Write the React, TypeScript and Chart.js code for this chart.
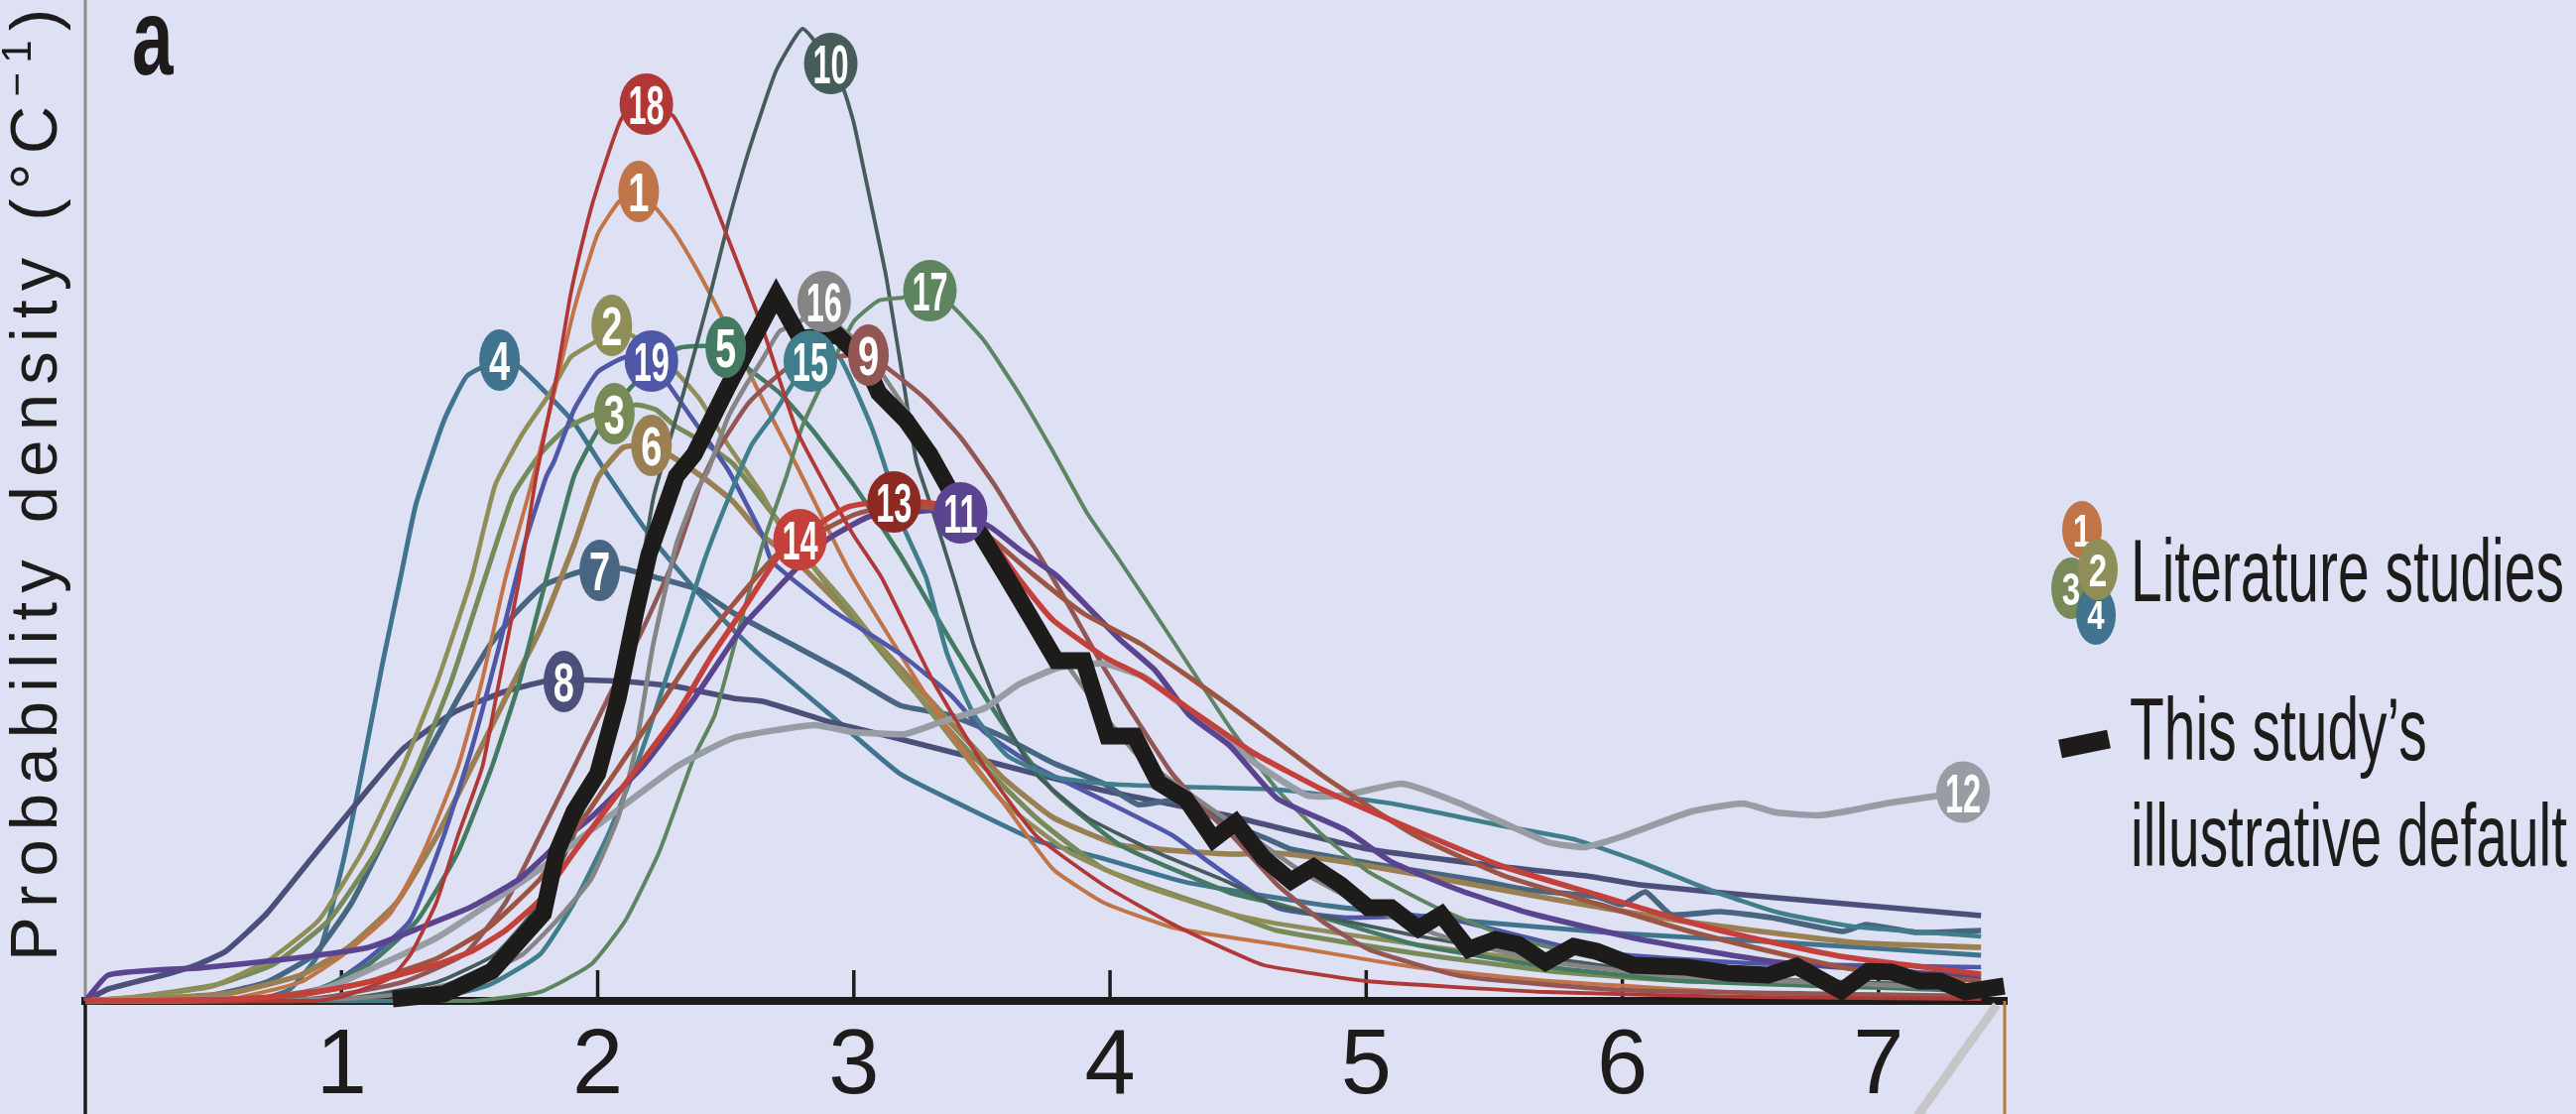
import React, { useEffect, useRef } from 'react';
import { Chart, registerables } from 'chart.js';
Chart.register(...registerables);

// ---------- data ----------
const X_TICKS = [1, 2, 3, 4, 5, 6, 7];
const X_MIN = 0;
const X_MAX = 7.5;
const Y_MAX = 1.009;

const S1 = [[0,0],[0.3,0],[0.57,0.002],[0.84,0.019],[1.01,0.047],[1.19,0.088],[1.32,0.15],[1.455,0.236],[1.548,0.322],[1.64,0.426],[1.75,0.529],[1.83,0.613],[1.91,0.699],[2.0,0.773],[2.084,0.806],[2.16,0.816],[2.228,0.799],[2.30,0.775],[2.388,0.737],[2.48,0.692],[2.644,0.606],[2.776,0.54],[2.977,0.436],[3.18,0.35],[3.376,0.271],[3.577,0.202],[3.777,0.133],[3.976,0.099],[4.243,0.074],[4.47,0.064],[4.65,0.057],[5.19,0.034],[5.72,0.02],[6.5,0.008],[7.4,0.004]];
const S2 = [[0,0],[0.2,0.004],[0.44,0.012],[0.51,0.016],[0.71,0.04],[0.91,0.081],[1.08,0.15],[1.24,0.236],[1.374,0.322],[1.508,0.426],[1.60,0.52],[1.707,0.572],[1.815,0.613],[1.895,0.649],[1.994,0.665],[2.055,0.681],[2.2,0.66],[2.307,0.634],[2.40,0.606],[2.51,0.56],[2.644,0.51],[2.72,0.475],[2.977,0.398],[3.31,0.288],[3.577,0.202],[3.84,0.15],[4.11,0.118],[4.467,0.088],[4.65,0.078],[5.19,0.057],[5.72,0.039],[6.25,0.025],[6.9,0.016],[7.4,0.012]];
const S3 = [[0,0],[0.2,0.004],[0.507,0.016],[0.735,0.037],[0.95,0.081],[1.134,0.15],[1.295,0.236],[1.428,0.322],[1.56,0.426],[1.67,0.51],[1.775,0.551],[1.88,0.578],[1.988,0.591],[2.065,0.592],[2.15,0.601],[2.228,0.596],[2.30,0.58],[2.40,0.565],[2.53,0.541],[2.91,0.415],[3.18,0.329],[3.44,0.254],[3.71,0.185],[3.976,0.133],[4.468,0.088],[4.65,0.071],[5.19,0.048],[5.72,0.03],[6.25,0.02],[7.4,0.014]];
const S4 = [[0,0],[0.5,0],[0.7,0.003],[0.8,0.012],[0.91,0.047],[1.0,0.133],[1.07,0.219],[1.16,0.34],[1.23,0.426],[1.29,0.50],[1.40,0.585],[1.49,0.63],[1.617,0.646],[1.695,0.639],[1.81,0.61],[1.91,0.582],[2.04,0.53],[2.21,0.467],[2.38,0.415],[2.53,0.374],[2.64,0.347],[2.91,0.288],[3.18,0.229],[3.44,0.195],[3.71,0.162],[3.98,0.143],[4.29,0.12],[4.85,0.096],[5.42,0.08],[5.99,0.068],[6.56,0.06],[7.4,0.046]];
const S5 = [[0,0],[0.6,0],[0.908,0.012],[1.107,0.037],[1.295,0.081],[1.455,0.15],[1.587,0.236],[1.695,0.322],[1.80,0.426],[1.908,0.529],[2.0,0.575],[2.135,0.62],[2.315,0.658],[2.50,0.659],[2.59,0.637],[2.71,0.613],[2.84,0.575],[3.0,0.52],[3.18,0.45],[3.376,0.364],[3.577,0.281],[3.777,0.212],[4.04,0.157],[4.468,0.109],[4.65,0.098],[5.19,0.057],[5.72,0.034],[6.25,0.02],[7.4,0.01]];
const S6 = [[0,0],[0.3,0.003],[0.57,0.008],[0.84,0.026],[1.028,0.054],[1.215,0.099],[1.374,0.167],[1.508,0.236],[1.64,0.305],[1.775,0.374],[1.908,0.46],[2.0,0.527],[2.10,0.558],[2.21,0.56],[2.295,0.548],[2.415,0.527],[2.53,0.503],[2.644,0.469],[2.776,0.443],[2.977,0.391],[3.18,0.336],[3.376,0.281],[3.577,0.226],[3.777,0.185],[4.04,0.157],[4.468,0.148],[4.653,0.149],[4.92,0.14],[5.19,0.128],[5.72,0.103],[6.25,0.08],[6.9,0.059],[7.4,0.054]];
const S7 = [[0,0],[0.3,0.002],[0.5,0.006],[0.708,0.019],[0.895,0.047],[1.04,0.099],[1.175,0.167],[1.31,0.236],[1.455,0.305],[1.575,0.357],[1.68,0.391],[1.79,0.419],[1.935,0.433],[2.008,0.434],[2.094,0.436],[2.24,0.426],[2.388,0.415],[2.53,0.391],[2.776,0.357],[2.977,0.329],[3.18,0.298],[3.376,0.288],[3.577,0.267],[3.777,0.24],[3.976,0.219],[4.11,0.198],[4.243,0.202],[4.377,0.188],[4.617,0.163],[4.706,0.153],[5.1,0.135],[5.45,0.121],[5.63,0.112],[5.9,0.105],[6.0,0.097],[6.09,0.11],[6.19,0.087],[6.38,0.09],[6.58,0.084],[6.86,0.07],[6.95,0.077],[7.15,0.069],[7.4,0.071]];
const S8 = [[0,0],[0.09,0.012],[0.333,0.028],[0.441,0.037],[0.548,0.05],[0.708,0.088],[0.881,0.143],[1.055,0.198],[1.24,0.254],[1.44,0.291],[1.64,0.312],[1.79,0.322],[1.868,0.324],[2.108,0.322],[2.307,0.317],[2.53,0.305],[2.644,0.302],[2.91,0.281],[3.18,0.264],[3.44,0.247],[3.71,0.229],[3.976,0.212],[4.243,0.198],[4.475,0.186],[5.01,0.153],[5.54,0.135],[5.86,0.126],[6.07,0.117],[6.6,0.104],[7.4,0.086]];
const S9 = [[0,0],[0.8,0],[0.97,0.005],[1.24,0.019],[1.48,0.047],[1.64,0.099],[1.775,0.167],[1.908,0.236],[2.04,0.305],[2.175,0.374],[2.307,0.45],[2.40,0.52],[2.457,0.551],[2.59,0.603],[2.737,0.637],[2.95,0.65],[3.057,0.651],[3.136,0.637],[3.283,0.606],[3.417,0.568],[3.55,0.52],[3.657,0.475],[3.71,0.455],[3.84,0.398],[3.976,0.336],[4.11,0.281],[4.243,0.229],[4.377,0.191],[4.475,0.167],[4.653,0.117],[4.83,0.08],[5.01,0.052],[5.37,0.025],[6.0,0.011],[7.4,0.005]];
const S10 = [[0,0],[0.9,0],[1.1,0.005],[1.374,0.019],[1.60,0.047],[1.775,0.099],[1.908,0.167],[2.015,0.254],[2.108,0.357],[2.175,0.443],[2.22,0.51],[2.335,0.613],[2.443,0.716],[2.51,0.785],[2.59,0.857],[2.697,0.938],[2.80,0.98],[2.91,0.945],[2.964,0.916],[3.0,0.885],[3.043,0.833],[3.124,0.733],[3.19,0.63],[3.244,0.544],[3.30,0.50],[3.39,0.426],[3.47,0.357],[3.577,0.288],[3.71,0.229],[3.91,0.185],[4.18,0.15],[4.468,0.119],[4.65,0.096],[5.19,0.066],[5.72,0.043],[6.25,0.025],[7.4,0.015]];
const S11 = [[0,0],[0.089,0.026],[0.333,0.032],[0.441,0.033],[0.815,0.043],[1.107,0.054],[1.31,0.074],[1.508,0.095],[1.695,0.123],[1.84,0.157],[1.975,0.185],[2.175,0.236],[2.377,0.305],[2.53,0.364],[2.577,0.381],[2.776,0.436],[2.896,0.465],[3.057,0.488],[3.2,0.492],[3.323,0.495],[3.417,0.492],[3.537,0.477],[3.657,0.453],[3.79,0.429],[3.91,0.398],[4.04,0.364],[4.177,0.333],[4.31,0.288],[4.468,0.257],[4.653,0.204],[4.92,0.172],[5.1,0.14],[5.36,0.112],[5.63,0.089],[6.07,0.062],[6.61,0.039],[7.4,0.024]];
const S12 = [[0,0],[0.7,0.002],[0.84,0.006],[0.975,0.016],[1.374,0.064],[1.775,0.133],[2.04,0.185],[2.307,0.236],[2.53,0.265],[2.844,0.278],[3.0,0.271],[3.2,0.269],[3.337,0.281],[3.51,0.295],[3.643,0.319],[3.80,0.336],[3.976,0.34],[4.137,0.326],[4.34,0.286],[4.57,0.239],[4.77,0.207],[4.91,0.207],[5.14,0.219],[5.366,0.199],[5.71,0.16],[5.85,0.155],[5.99,0.165],[6.27,0.191],[6.47,0.199],[6.6,0.19],[6.76,0.187],[6.85,0.19],[7.05,0.2],[7.33,0.2105]];
const S13 = [[0,0],[0.6,0.002],[0.84,0.006],[1.1,0.019],[1.374,0.043],[1.575,0.074],[1.775,0.123],[1.975,0.195],[2.175,0.271],[2.377,0.35],[2.53,0.40],[2.70,0.45],[2.884,0.475],[3.0,0.49],[3.157,0.50],[3.30,0.497],[3.42,0.488],[3.52,0.47],[3.70,0.43],[3.90,0.39],[4.12,0.36],[4.475,0.296],[4.83,0.227],[5.19,0.167],[5.54,0.126],[5.9,0.098],[6.25,0.071],[6.61,0.048],[6.9,0.032],[7.4,0.02]];
const S14 = [[0,0],[0.5,0.001],[0.72,0.004],[0.97,0.012],[1.175,0.023],[1.374,0.037],[1.508,0.05],[1.64,0.071],[1.775,0.102],[1.908,0.15],[2.108,0.219],[2.307,0.288],[2.443,0.347],[2.577,0.398],[2.71,0.45],[2.79,0.465],[2.884,0.484],[2.977,0.498],[3.157,0.505],[3.323,0.501],[3.42,0.495],[3.52,0.47],[3.643,0.426],[3.777,0.384],[3.976,0.347],[4.12,0.328],[4.3,0.296],[4.56,0.25],[4.83,0.213],[5.19,0.172],[5.54,0.135],[5.9,0.107],[6.25,0.08],[6.48,0.065],[6.85,0.045],[7.4,0.027]];
const S15 = [[0,0],[1.3,0],[1.575,0.016],[1.775,0.047],[1.908,0.099],[2.04,0.167],[2.175,0.254],[2.307,0.357],[2.415,0.443],[2.50,0.50],[2.60,0.56],[2.683,0.59],[2.764,0.623],[2.83,0.645],[2.937,0.651],[3.0,0.62],[3.07,0.578],[3.136,0.527],[3.19,0.48],[3.283,0.426],[3.364,0.35],[3.47,0.288],[3.60,0.247],[3.777,0.226],[3.976,0.219],[4.243,0.216],[4.653,0.213],[5.1,0.199],[5.54,0.176],[5.81,0.163],[6.07,0.14],[6.34,0.112],[6.61,0.089],[6.9,0.075],[7.4,0.065]];
const S16 = [[0,0],[1.0,0.002],[1.27,0.008],[1.508,0.023],[1.707,0.047],[1.84,0.081],[1.975,0.123],[2.08,0.185],[2.148,0.254],[2.215,0.357],[2.307,0.46],[2.388,0.515],[2.43,0.534],[2.51,0.589],[2.577,0.62],[2.644,0.647],[2.71,0.675],[2.79,0.685],[2.884,0.705],[2.95,0.678],[3.0,0.668],[3.097,0.637],[3.204,0.596],[3.31,0.554],[3.417,0.505],[3.51,0.469],[3.577,0.443],[3.71,0.384],[3.84,0.336],[3.976,0.288],[4.11,0.247],[4.31,0.209],[4.5,0.175],[4.75,0.13],[5.0,0.095],[5.3,0.065],[5.7,0.04],[6.2,0.025],[7.4,0.012]];
const S17 = [[0,0],[1.5,0],[1.775,0.009],[1.975,0.037],[2.108,0.081],[2.24,0.15],[2.375,0.245],[2.457,0.288],[2.55,0.374],[2.644,0.46],[2.737,0.529],[2.80,0.58],[2.91,0.64],[3.0,0.685],[3.097,0.706],[3.19,0.709],[3.297,0.716],[3.39,0.699],[3.51,0.665],[3.643,0.613],[3.777,0.554],[3.91,0.492],[4.04,0.443],[4.243,0.364],[4.475,0.273],[4.653,0.213],[4.83,0.167],[5.01,0.13],[5.275,0.094],[5.54,0.066],[5.9,0.043],[6.4,0.025],[7.4,0.012]];
const S18 = [[0,0],[0.9,0],[1.0,0.004],[1.19,0.023],[1.27,0.047],[1.37,0.099],[1.455,0.167],[1.55,0.236],[1.61,0.315],[1.695,0.426],[1.76,0.529],[1.84,0.63],[1.895,0.713],[1.96,0.785],[2.0,0.821],[2.094,0.89],[2.19,0.904],[2.295,0.892],[2.40,0.84],[2.51,0.768],[2.644,0.678],[2.777,0.575],[2.91,0.51],[3.0,0.469],[3.11,0.426],[3.31,0.322],[3.51,0.236],[3.71,0.167],[3.98,0.116],[4.24,0.078],[4.47,0.05],[4.60,0.036],[5.0,0.02],[5.7,0.009],[6.5,0.004],[7.4,0.002]];
const S19 = [[0,0],[0.6,0],[0.84,0.005],[0.975,0.019],[1.107,0.043],[1.268,0.081],[1.40,0.167],[1.508,0.254],[1.615,0.357],[1.72,0.465],[1.80,0.529],[1.83,0.544],[1.908,0.596],[2.0,0.634],[2.108,0.649],[2.21,0.645],[2.28,0.62],[2.375,0.585],[2.51,0.535],[2.644,0.469],[2.68,0.443],[2.91,0.395],[3.18,0.35],[3.376,0.309],[3.51,0.271],[3.71,0.236],[3.976,0.202],[4.243,0.167],[4.386,0.14],[4.653,0.094],[4.92,0.084],[5.28,0.085],[5.86,0.05],[6.5,0.038],[7.4,0.034]];

const DEFAULT_CURVE = [[1.2,0.002],[1.40,0.007],[1.587,0.03],[1.788,0.088],[1.84,0.15],[1.908,0.191],[2.0,0.229],[2.08,0.305],[2.148,0.391],[2.20,0.45],[2.307,0.529],[2.377,0.551],[2.51,0.62],[2.697,0.711],[2.79,0.668],[2.937,0.671],[3.043,0.644],[3.097,0.613],[3.204,0.585],[3.297,0.551],[3.364,0.52],[3.417,0.492],[3.497,0.47],[3.60,0.426],[3.71,0.378],[3.79,0.343],[3.897,0.343],[3.99,0.267],[4.096,0.267],[4.19,0.22],[4.297,0.203],[4.404,0.163],[4.49,0.18],[4.6,0.144],[4.706,0.121],[4.795,0.135],[4.901,0.117],[5.008,0.094],[5.097,0.094],[5.203,0.073],[5.293,0.087],[5.4,0.052],[5.505,0.062],[5.594,0.057],[5.70,0.039],[5.81,0.055],[5.9,0.05],[6.04,0.036],[6.25,0.034],[6.41,0.028],[6.57,0.026],[6.68,0.035],[6.855,0.01],[6.96,0.03],[7.05,0.029],[7.16,0.02],[7.24,0.02],[7.34,0.009],[7.49,0.015]];

const STUDY_IDS = ['1','2','3','4','5','6','7','8','9','10','11','12','13','14','15','16','17','18','19'];
const STUDY_CURVES = [S1,S2,S3,S4,S5,S6,S7,S8,S9,S10,S11,S12,S13,S14,S15,S16,S17,S18,S19];
const LABEL_X = [2.16,2.055,2.065,1.617,2.50,2.21,2.008,1.868,3.057,2.91,3.417,7.33,3.157,2.79,2.83,2.884,3.297,2.19,2.21];
const LABEL_Y = [0.816,0.681,0.592,0.646,0.659,0.560,0.434,0.322,0.651,0.945,0.492,0.2105,0.503,0.465,0.645,0.705,0.716,0.904,0.645];

const LEGEND_TEXT = ['Literature studies', 'This study\u2019s', 'illustrative default'];
const Y_TITLE = ['Probability density (\u00B0C', '\u22121', ')'];
const PANEL_LETTER = 'a';

// ---------- styles ----------
const BG = '#DDE1F3';
const LINE_COLORS = ['#C07447','#8F8D58','#778A58','#3F738E','#447A62','#9A7F52','#486581','#4B4F7A','#925655','#465C5A','#5A4490','#989CA4','#9E5443','#C4403A','#3F7E8A','#858585','#5E8560','#B23838','#4F58A8'];
const LABEL_COLORS = ['#C07447','#8F8D58','#778A58','#3F738E','#447A62','#9A7F52','#486581','#4B4F7A','#925655','#465C5A','#5A4490','#989CA4','#8C2A22','#C4403A','#3F7E8A','#858585','#5E8560','#B23838','#4F58A8'];
const LINE_WIDTHS = [4,4.6,5,4.8,4.6,5.6,5.6,5.6,4.6,3.8,5.6,6.5,5,5.6,4.6,4.6,4,3.8,4.6];
const DRAW_ORDER = [14,18,13,11,16,12,9,15,17,10,5,19,1,2,3,6,7,8,4];
const INK = '#1E1B1B';
const SANS = '"Liberation Sans", Arial, Helvetica, sans-serif';

function condensedText(ctx, text, x, y, font, sx, align) {
  ctx.save();
  ctx.font = font;
  ctx.translate(x, y);
  ctx.scale(sx, 1);
  ctx.textAlign = align || 'left';
  ctx.fillText(text, 0, 0);
  ctx.restore();
}

function ellipseLabel(ctx, cx, cy, rx, ry, fill, text, fontPx, sx) {
  ctx.save();
  ctx.fillStyle = fill;
  ctx.beginPath();
  ctx.ellipse(cx, cy, rx, ry, 0, 0, Math.PI * 2);
  ctx.fill();
  ctx.fillStyle = '#FFFFFF';
  ctx.textBaseline = 'alphabetic';
  condensedText(ctx, text, cx, cy + fontPx * 0.36, `bold ${fontPx}px ${SANS}`, sx, 'center');
  ctx.restore();
}

const decorPlugin = {
  id: 'decor',
  beforeDraw(chart) {
    const ctx = chart.ctx;
    ctx.save();
    ctx.fillStyle = BG;
    ctx.fillRect(0, 0, chart.width, chart.height);
    ctx.restore();
  },
  beforeDatasetsDraw(chart) {
    const ctx = chart.ctx;
    const { left, bottom, right } = chart.chartArea;
    const xs = chart.scales.x;
    ctx.save();
    ctx.lineCap = 'butt';
    ctx.strokeStyle = '#8E8E8E';
    ctx.lineWidth = 3;
    ctx.beginPath(); ctx.moveTo(left, 0); ctx.lineTo(left, bottom); ctx.stroke();
    ctx.strokeStyle = INK;
    ctx.lineWidth = 3.5;
    ctx.beginPath(); ctx.moveTo(left, bottom); ctx.lineTo(left, chart.height); ctx.stroke();
    ctx.lineWidth = 3.5;
    X_TICKS.forEach((v) => {
      const px = xs.getPixelForValue(v);
      ctx.beginPath(); ctx.moveTo(px, bottom); ctx.lineTo(px, bottom - 31); ctx.stroke();
    });
    ctx.strokeStyle = '#C6C6C8';
    ctx.lineWidth = 9;
    ctx.beginPath(); ctx.moveTo(right - 10, bottom + 4); ctx.lineTo(right - 90, chart.height + 2); ctx.stroke();
    ctx.strokeStyle = '#B77A36';
    ctx.lineWidth = 3;
    ctx.beginPath(); ctx.moveTo(right - 2, bottom); ctx.lineTo(right - 2, chart.height); ctx.stroke();
    ctx.restore();
  },
  afterDatasetsDraw(chart) {
    const ctx = chart.ctx;
    const xs = chart.scales.x;
    const ys = chart.scales.y;
    STUDY_IDS.forEach((id, i) => {
      const cx = xs.getPixelForValue(LABEL_X[i]);
      const cy = ys.getPixelForValue(LABEL_Y[i]);
      const two = id.length > 1;
      ellipseLabel(ctx, cx, cy, two ? 27 : 20.5, 31, LABEL_COLORS[i], id, 56, two ? 0.58 : 0.68);
    });
  },
  afterDraw(chart) {
    const ctx = chart.ctx;
    ctx.save();
    ctx.fillStyle = INK;
    const big = `67px ${SANS}`;
    const small = `42px ${SANS}`;
    ctx.letterSpacing = '0px';
    ctx.font = big;
    const w0 = ctx.measureText(Y_TITLE[0]).width;
    const w2 = ctx.measureText(Y_TITLE[2]).width;
    ctx.font = small;
    const w1 = ctx.measureText(Y_TITLE[1]).width;
    const nChars = Y_TITLE[0].length + Y_TITLE[1].length + Y_TITLE[2].length;
    const ls = (960 - w0 - w1 - w2) / (nChars - 1);
    ctx.save();
    ctx.translate(57, 969);
    ctx.rotate(-Math.PI / 2);
    ctx.textAlign = 'left';
    ctx.textBaseline = 'alphabetic';
    ctx.letterSpacing = `${ls}px`;
    ctx.font = big;
    ctx.fillText(Y_TITLE[0], 0, 0);
    let pos = w0 + Y_TITLE[0].length * ls;
    ctx.font = small;
    ctx.fillText(Y_TITLE[1], pos, -26);
    pos += w1 + Y_TITLE[1].length * ls;
    ctx.font = big;
    ctx.fillText(Y_TITLE[2], pos, 0);
    ctx.restore();
    ctx.letterSpacing = '0px';

    ctx.textBaseline = 'alphabetic';
    condensedText(ctx, PANEL_LETTER, 133, 75, `bold 110px ${SANS}`, 0.68, 'left');

    ellipseLabel(ctx, 2099, 534, 20, 29, LABEL_COLORS[0], STUDY_IDS[0], 46, 0.72);
    ellipseLabel(ctx, 2088, 593, 20, 31, LABEL_COLORS[2], STUDY_IDS[2], 46, 0.72);
    ellipseLabel(ctx, 2113, 620, 20, 30, LABEL_COLORS[3], STUDY_IDS[3], 40, 0.78);
    ellipseLabel(ctx, 2115, 574, 20, 31, LABEL_COLORS[1], STUDY_IDS[1], 46, 0.72);
    ctx.fillStyle = INK;
    condensedText(ctx, LEGEND_TEXT[0], 2148, 606, `89px ${SANS}`, 0.64, 'left');
    condensedText(ctx, LEGEND_TEXT[1], 2147, 766, `89px ${SANS}`, 0.64, 'left');
    condensedText(ctx, LEGEND_TEXT[2], 2148, 873, `89px ${SANS}`, 0.64, 'left');
    ctx.strokeStyle = INK;
    ctx.lineWidth = 19;
    ctx.lineCap = 'butt';
    ctx.beginPath(); ctx.moveTo(2077, 755); ctx.lineTo(2126, 745); ctx.stroke();
    ctx.restore();
  },
};

export default function App() {
  const ref = useRef(null);
  useEffect(() => {
    const canvas = ref.current;
    if (!canvas) return;
    canvas.width = 2597;
    canvas.height = 1123;
    const toPts = (arr) => arr.map(([x, y]) => ({ x, y }));
    const datasets = [
      {
        label: 'This study\u2019s illustrative default',
        data: toPts(DEFAULT_CURVE),
        borderColor: INK,
        borderWidth: 17,
        borderJoinStyle: 'miter',
        borderCapStyle: 'butt',
        tension: 0,
        pointRadius: 0,
        clip: false,
      },
      ...DRAW_ORDER.map((n) => {
        const i = n - 1;
        return {
          label: `Study ${STUDY_IDS[i]}`,
          data: toPts(STUDY_CURVES[i]),
          borderColor: LINE_COLORS[i],
          borderWidth: LINE_WIDTHS[i],
          borderJoinStyle: 'round',
          borderCapStyle: 'butt',
          tension: 0.15,
          pointRadius: 0,
          clip: false,
        };
      }),
    ];
    const chart = new Chart(canvas, {
      type: 'line',
      data: { datasets },
      options: {
        responsive: false,
        animation: false,
        devicePixelRatio: 1,
        events: [],
        layout: { padding: { left: 86, right: 574, top: 0, bottom: 0 } },
        plugins: { legend: { display: false }, tooltip: { enabled: false } },
        scales: {
          x: {
            type: 'linear',
            min: X_MIN,
            max: X_MAX,
            afterBuildTicks: (scale) => { scale.ticks = X_TICKS.map((v) => ({ value: v })); },
            afterFit: (scale) => { scale.height = 114; },
            grid: { display: false, drawTicks: false },
            border: { display: true, color: INK, width: 8 },
            ticks: {
              color: INK,
              padding: 12,
              maxRotation: 0,
              autoSkip: false,
              font: { family: '"Liberation Sans Narrow", "Liberation Sans", Arial, sans-serif', size: 92, lineHeight: 1.2 },
              callback: (v) => String(v),
            },
          },
          y: { display: false, min: 0, max: Y_MAX },
        },
      },
      plugins: [decorPlugin],
    });
    return () => chart.destroy();
  }, []);
  return (
    <div style={{ position: 'fixed', left: 0, top: 0, width: 2597, height: 1123, background: BG, overflow: 'hidden' }}>
      <canvas ref={ref} width={2597} height={1123} style={{ display: 'block', width: 2597, height: 1123 }} />
    </div>
  );
}
